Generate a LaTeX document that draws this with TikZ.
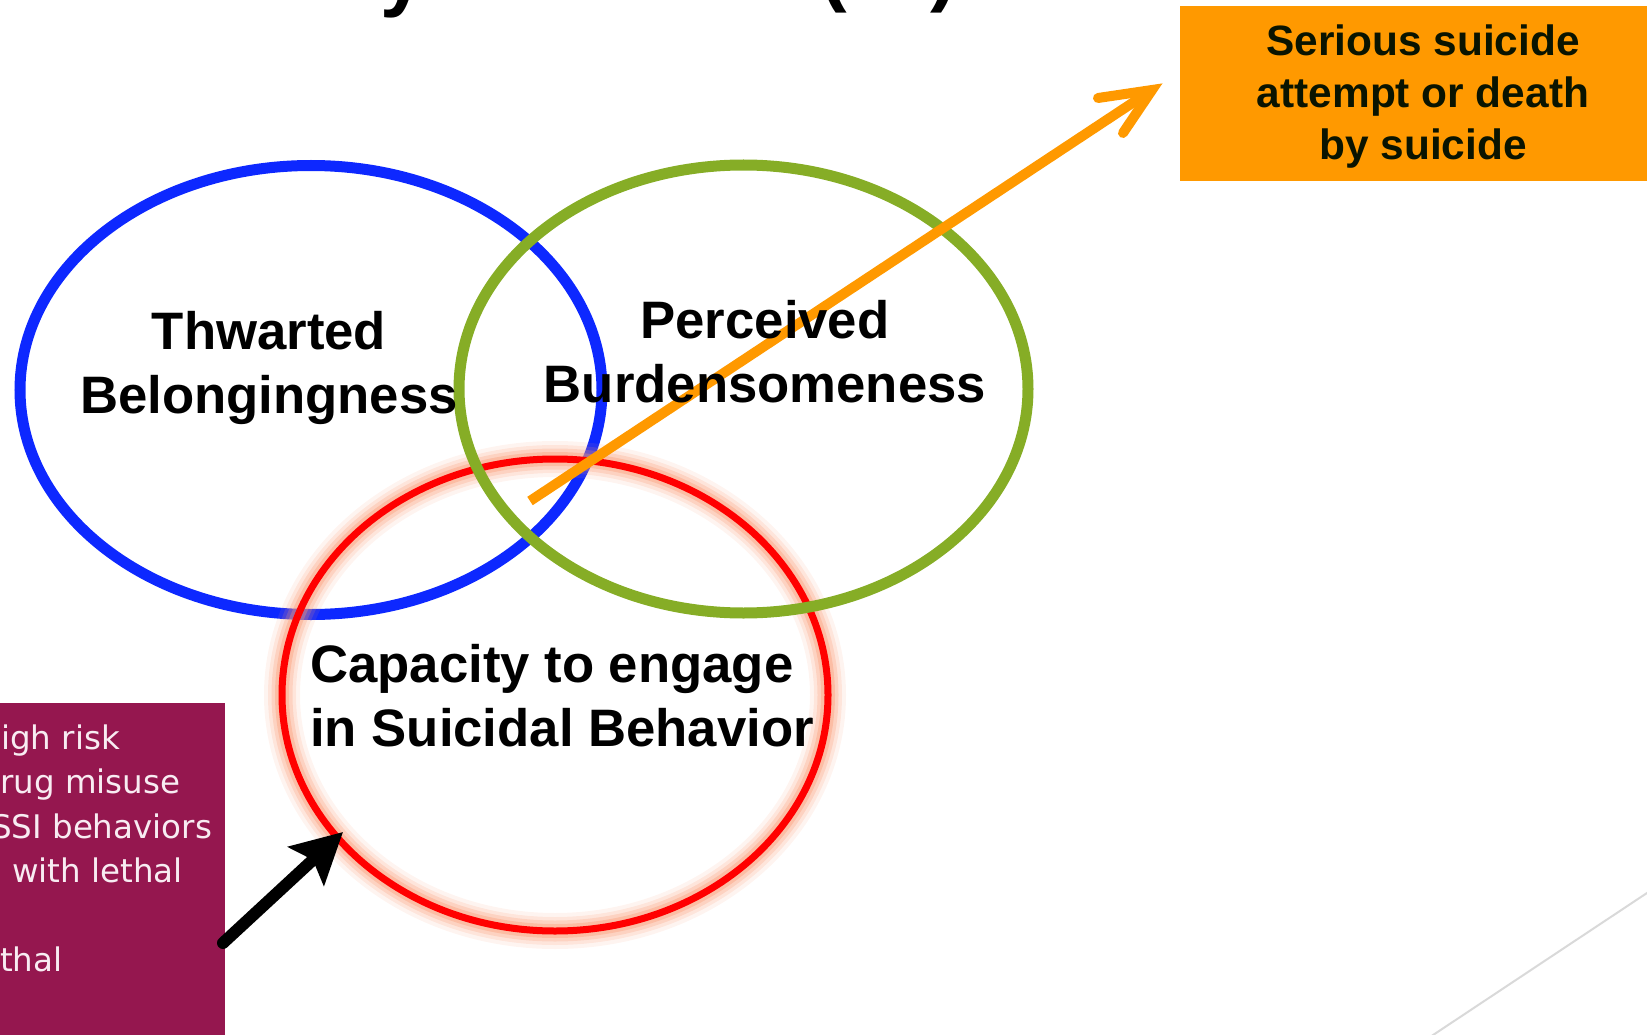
\documentclass[tikz,border=0pt]{standalone}
\usepackage{fontspec}
\setmainfont{Liberation Sans}
\newfontfamily\boxfont{DejaVu Sans}
\usetikzlibrary{arrows.meta,calc}
\definecolor{ringblue}{RGB}{13,40,255}
\definecolor{ringgreen}{RGB}{134,173,38}
\definecolor{ringred}{RGB}{255,0,0}
\definecolor{glow}{RGB}{250,150,110}
\definecolor{outcome}{RGB}{255,153,0}
\definecolor{plum}{RGB}{149,23,79}
\definecolor{plumtext}{RGB}{248,236,242}
\definecolor{slideline}{RGB}{217,217,217}
\definecolor{inktext}{RGB}{10,20,0}
\begin{document}
\begin{tikzpicture}[x=1pt,y=-1pt,
  ring/.style={line width=11pt},
  ringlabel/.style={font=\bfseries\fontsize{52.7}{64}\selectfont, inner sep=0pt, align=center},
  outcometext/.style={font=\bfseries\fontsize{42.4}{52}\selectfont, inner sep=0pt, align=center, text=inktext},
  plumline/.style={font=\boxfont\fontsize{32.5}{40}\selectfont, inner sep=0pt, anchor=base west, text=plumtext},
  titlefrag/.style={font=\bfseries\fontsize{80}{90}\selectfont, inner sep=0pt, anchor=base west},
]
\useasboundingbox (0,0) rectangle (1647,1035);
\begin{scope}
\clip (0,0) rectangle (1647,1035);

% fragments of the slide title above the frame
\node[titlefrag] (ty) at (380,2) {y};
\node[titlefrag] (tpl) at (820,-3) {(};
\node[titlefrag] (tpr) at (930,-3) {)};

% faint slide decoration line, bottom right
\coordinate (decoA) at (1418,1045);
\coordinate (decoB) at (1662,883);
\draw[slideline, line width=2pt] (decoA) -- (decoB);

% outcome box
\fill[outcome] (1180,6) rectangle (1660,181);
\node[outcometext, anchor=base] (outcome) at (1423,160) {Serious suicide\\attempt or death\\by suicide};

% risk-factor box on the left
\fill[plum] (-10,703) rectangle (225,1045);
\node[plumline] (p1) at (1,749) {igh risk};
\node[plumline] (p2) at (0,793) {rug misuse};
\node[plumline] (p3) at (-9,838) {SSI behaviors};
\node[plumline] (p4) at (12,882) {with lethal};
\node[plumline] (p5) at (0,971) {thal};

% the three constructs
\coordinate (cBel) at (311,390);
\coordinate (cBur) at (743.5,389);
\coordinate (cCap) at (555,695);
\draw[ring, ringblue] (cBel) ellipse [x radius=291pt, y radius=224.5pt];
\foreach \w/\o in {36/0.10, 28/0.16, 21/0.24, 14/0.35} {
  \draw[glow, line width=\w pt, opacity=\o] (cCap) ellipse [x radius=273pt, y radius=236pt];
}
\draw[ringred, line width=7pt] (cCap) ellipse [x radius=273pt, y radius=236pt];
\draw[ring, ringgreen] (cBur) ellipse [x radius=284.5pt, y radius=224pt];

% path from the overlap to the outcome
\coordinate (arrTail) at (530,501);
\coordinate (arrTip) at (1152,90);
\draw[outcome, line width=10pt, shorten >=6pt] (arrTail) -- (arrTip);
\draw[outcome, line width=10pt, line cap=round, line join=miter]
  ($(arrTip)+(-54,8)$) -- (arrTip) -- ($(arrTip)+(-29,43)$);

% labels of the three constructs, set above the lines
\node[ringlabel, anchor=base] (tb) at (269,413) {Thwarted\\Belongingness};
\node[ringlabel, anchor=base] (pb) at (765,402) {Perceived\\Burdensomeness};
\node[ringlabel, anchor=base west, align=left] (cap) at (310,746) {Capacity to engage\\in Suicidal Behavior};

% arrow from the risk-factor box into capacity
\coordinate (capTail) at (223,943);
\coordinate (capTip) at (343,832);
\draw[black, line width=12pt, line cap=round, -{Stealth[length=50pt, width=52pt, inset=9pt]}] (capTail) -- (capTip);
\end{scope}
\end{tikzpicture}
\end{document}
